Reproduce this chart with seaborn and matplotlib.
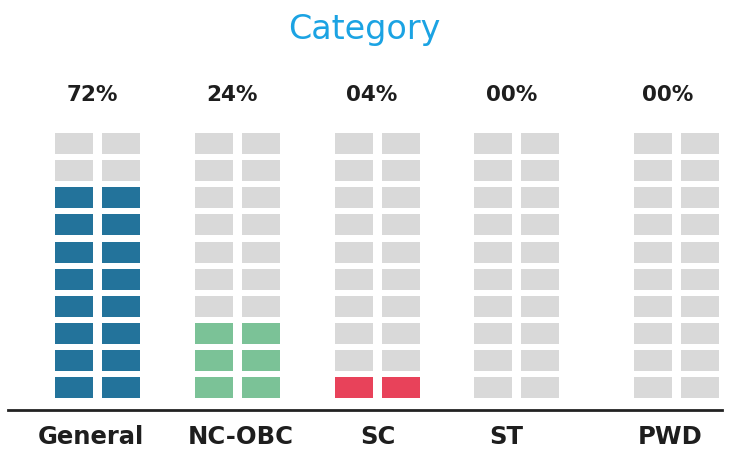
import math
import matplotlib
matplotlib.use("Agg")
import matplotlib.pyplot as plt
import seaborn as sns
import pandas as pd

# ---- data ----
categories = ["General", "NC-OBC", "SC", "ST", "PWD"]
percent = [72, 24, 4, 0, 0]
pct_labels = ["72%", "24%", "04%", "00%", "00%"]
colors = ["#23739b", "#7bc297", "#e8425a", "#d9d9d9", "#d9d9d9"]
empty_color = "#d9d9d9"
n_rows = 10
n_cols = 2

# ---- layout ----
x_pos = [0, 1, 2, 2.996, 4.136]   # category centres (units of grid spacing)
label_x = [-0.05, 1.02, 2.0, 2.92, 4.09]
pct_x = [-0.04, 0.96, 1.96, 2.96, 4.07]
col_off = [-0.168, 0.168]
cell_w = 0.272
cell_h = 0.775

sns.set_theme(style="white")
plt.rcParams["font.family"] = ["DejaVu Sans"]

# long table of cells
rows = []
for i, (cat, p) in enumerate(zip(categories, percent)):
    filled = math.ceil(p / 10)
    for r in range(n_rows):
        for c in range(n_cols):
            rows.append(dict(cat=cat, x=x_pos[i] + col_off[c], row=r,
                             color=colors[i] if r < filled else empty_color))
cells = pd.DataFrame(rows)

fig = plt.figure(figsize=(7.29, 4.51), dpi=100)
ax = fig.add_axes([8 / 729, 1 - 410 / 451, 714 / 729, 290 / 451])
ax.bar(cells["x"], cell_h, bottom=cells["row"], width=cell_w,
       color=cells["color"], align="center", linewidth=0)
ax.set_xlim(-0.639, 4.461)
ax.set_ylim(-0.443, 10.26)
sns.despine(ax=ax, left=True, top=True, right=True)
ax.spines["bottom"].set_color("#222222")
ax.spines["bottom"].set_linewidth(2)
ax.set_yticks([])
ax.set_xticks([])
ax.grid(False)

for xp, lab in zip(label_x, categories):
    ax.text(xp, -1.44, lab, ha="center", va="center", fontsize=17.5,
            fontweight="bold", color="#1e1e1e", clip_on=False)

for xp, lab in zip(pct_x, pct_labels):
    ax.text(xp, 11.18, lab, ha="center", va="center", fontsize=15.5,
            fontweight="bold", color="#1e1e1e", clip_on=False)

fig.text(0.5, 1 - 29 / 451, "Category", ha="center", va="center",
         fontsize=24, color="#1ba3e3")

fig.savefig("out.png", dpi=100, facecolor="white")
